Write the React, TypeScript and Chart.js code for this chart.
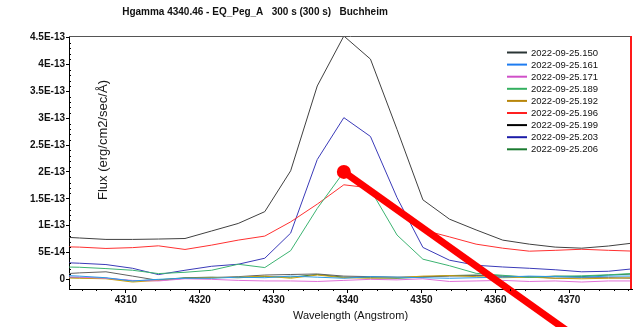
import React, { useEffect, useRef } from "react";
import { Chart, registerables } from "chart.js";
Chart.register(...registerables);

// Wavelength samples (Angstrom)
const wavelengths = [
  4300.1, 4303.7, 4307.3, 4310.9, 4314.4, 4318.0, 4321.6, 4325.2, 4328.8, 4332.3, 4335.9, 4339.5,
  4343.1, 4346.7, 4350.2, 4353.8, 4357.4, 4361.0, 4364.6, 4368.1, 4371.7, 4375.3, 4378.9,
];

// Flux values in units of 1e-14 erg/cm2/sec/A
const UNIT = 1e-14;
const f150 = [7.96, 7.7, 7.43, 7.43, 7.5, 7.6, 9.0, 10.4, 12.6, 20.2, 36.0, 45.3, 41.0, 27.9, 14.8, 11.2, 9.2, 7.3, 6.55, 6.0, 5.8, 6.2, 6.8];
const f161 = [0.8, 0.6, 0.3, -0.3, 0.0, 0.2, 0.2, 0.4, 0.3, 0.6, 0.4, 0.2, 0.5, 0.4, 0.3, 0.2, 0.3, 0.4, 0.6, 0.5, 0.4, 0.6, 0.6];
const f171 = [0.5, 0.4, 0.2, -0.2, -0.3, 0.1, 0.0, -0.2, -0.3, -0.3, -0.4, -0.2, 0.0, -0.1, 0.1, -0.4, -0.3, -0.2, -0.4, -0.3, -0.5, -0.3, -0.3];
const f189 = [2.34, 2.25, 2.0, 1.69, 1.07, 1.31, 1.69, 2.81, 2.19, 5.34, 13.2, 20.0, 16.7, 8.24, 3.75, 2.53, 1.12, 0.75, 0.37, 0.56, 0.66, 0.84, 1.12];
const f192 = [0.3, 0.2, 0.1, -0.5, -0.2, 0.2, 0.3, 0.4, 0.6, 0.2, 0.8, 0.3, 0.2, 0.3, 0.6, 0.7, 0.5, 0.3, 0.4, 0.2, 0.1, 0.2, 0.3];
const f196 = [6.1, 6.0, 5.75, 5.9, 6.24, 5.56, 6.37, 7.3, 8.05, 10.7, 14.0, 17.6, 17.0, 12.9, 9.2, 7.9, 6.55, 5.8, 5.24, 5.4, 5.6, 5.4, 5.24];
const f199 = [0.9, 1.2, 1.4, 0.6, -0.2, 0.2, 0.3, 0.5, 0.8, 0.9, 1.0, 0.6, 0.5, 0.4, 0.5, 0.6, 0.7, 0.6, 0.5, 0.2, 0.3, 0.3, 0.2];
const f203 = [3.18, 3.0, 2.75, 2.06, 0.88, 1.69, 2.43, 2.81, 3.93, 8.6, 22.3, 30.1, 26.6, 15.2, 5.94, 3.56, 2.62, 2.3, 2.06, 1.78, 1.4, 1.5, 2.0];
const f206 = [0.4, 0.3, 0.2, -0.3, -0.1, 0.3, 0.4, 0.3, 0.5, 0.4, 0.9, 0.4, 0.3, 0.2, 0.4, 0.7, 0.8, 0.6, 0.4, 0.6, 0.5, 0.8, 1.0];

const seriesLabels = [
  "2022-09-25.150", "2022-09-25.161", "2022-09-25.171", "2022-09-25.189", "2022-09-25.192",
  "2022-09-25.196", "2022-09-25.199", "2022-09-25.203", "2022-09-25.206",
];
const seriesValues = [f150, f161, f171, f189, f192, f196, f199, f203, f206];
const seriesColors = ["#2a3535", "#1e7cf0", "#d050c8", "#34b060", "#b8860b", "#ff2020", "#000000", "#1c1ca8", "#1a7a30"];
const plotColors = ["#404040", "#2a9ae8", "#e070d8", "#3cb371", "#c8a010", "#ff3030", "#606060", "#3a3ab8", "#2a7a40"];

// Annotation (red marker + pointer line), in data coordinates
const markerX = [4339.5, 4372.4];
const markerY = [2.0e-13, -1.22e-13];

const titleText = "Hgamma 4340.46 - EQ_Peg_A   300 s (300 s)   Buchheim";
const yTitle = "Flux (erg/cm2/sec/\u00C5)";
const xTitle = "Wavelength (Angstrom)";
const FONT = '"Liberation Sans", Arial, sans-serif';

const decor = {
  id: "decor",
  afterDraw(chart: any) {
    const { ctx, chartArea: a, scales } = chart;
    const xs = scales.x;
    const ys = scales.y;
    ctx.save();
    // top border
    ctx.strokeStyle = "#555";
    ctx.lineWidth = 1;
    ctx.beginPath();
    ctx.moveTo(a.left, Math.round(a.top) + 0.5);
    ctx.lineTo(a.right, Math.round(a.top) + 0.5);
    ctx.stroke();
    // right border
    ctx.strokeStyle = "#ff1a1a";
    ctx.lineWidth = 2;
    ctx.beginPath();
    ctx.moveTo(a.right - 1, a.top);
    ctx.lineTo(a.right - 1, a.bottom);
    ctx.stroke();
    // minor ticks
    ctx.strokeStyle = "#000";
    ctx.lineWidth = 1;
    ctx.beginPath();
    for (let w = Math.ceil(xs.min / 2) * 2; w <= xs.max; w += 2) {
      if (w % 10 === 0) continue;
      const px = Math.round(xs.getPixelForValue(w)) + 0.5;
      ctx.moveTo(px, a.bottom);
      ctx.lineTo(px, a.bottom + 2);
    }
    for (let k = Math.ceil(ys.min / 1e-14); k <= Math.floor(ys.max / 1e-14); k++) {
      if (k % 5 === 0) continue;
      const py = Math.round(ys.getPixelForValue(k * 1e-14)) + 0.5;
      ctx.moveTo(a.left, py);
      ctx.lineTo(a.left + 2, py);
    }
    ctx.stroke();
    // title
    ctx.fillStyle = "#111";
    ctx.font = "bold 10px " + FONT;
    ctx.textAlign = "center";
    ctx.textBaseline = "middle";
    ctx.fillText(titleText, 255, 12);
    // y title inside plot
    ctx.save();
    ctx.translate(a.left + 34, 140);
    ctx.rotate(-Math.PI / 2);
    ctx.font = "13px " + FONT;
    ctx.fillStyle = "#1a1a1a";
    ctx.fillText(yTitle, 0, 0);
    ctx.restore();
    // legend
    ctx.font = "9.5px " + FONT;
    ctx.textAlign = "left";
    seriesLabels.forEach((lab, i) => {
      const yy = a.top + 16.5 + i * 12.1;
      ctx.strokeStyle = seriesColors[i];
      ctx.lineWidth = 2;
      ctx.beginPath();
      ctx.moveTo(a.right - 125, yy);
      ctx.lineTo(a.right - 105, yy);
      ctx.stroke();
      ctx.fillStyle = "#111";
      ctx.fillText(lab, a.right - 101, yy + 0.5);
    });
    ctx.restore();
  },
};

export default function App() {
  const ref = useRef<HTMLCanvasElement | null>(null);
  useEffect(() => {
    if (!ref.current) return;
    const datasets: any[] = [
      {
        label: "marker",
        data: markerX.map((x, i) => ({ x, y: markerY[i] })),
        borderColor: "#ff0000",
        backgroundColor: "#ff0000",
        borderWidth: 7,
        pointRadius: (c: any) => (c.dataIndex === 0 ? 7 : 0),
        pointBackgroundColor: "#ff0000",
        pointBorderWidth: 0,
        clip: false,
        order: -1,
      },
      ...seriesValues.map((vals, i) => ({
        label: seriesLabels[i],
        data: wavelengths.map((w, j) => ({ x: w, y: vals[j] * UNIT })),
        borderColor: plotColors[i],
        borderWidth: 1,
        pointRadius: 0,
        tension: 0,
      })),
    ];
    const chart = new Chart(ref.current, {
      type: "line",
      data: { datasets },
      options: {
        animation: false,
        responsive: true,
        maintainAspectRatio: false,
        layout: { padding: { top: 36, right: 6, left: 0, bottom: 0 } },
        plugins: { legend: { display: false }, tooltip: { enabled: false }, title: { display: false } },
        scales: {
          x: {
            type: "linear",
            min: 4302.3,
            max: 4378.5,
            afterFit: (s: any) => { s.height = 38; },
            border: { color: "#000", width: 1 },
            grid: { display: true, drawOnChartArea: false, drawTicks: true, tickLength: 4, color: "#000" },
            ticks: {
              stepSize: 10,
              includeBounds: false,
              padding: 1,
              color: "#111",
              font: { family: FONT, size: 10, weight: "bold" },
              maxRotation: 0,
              callback: (v: any) => String(v),
            },
            title: { display: true, text: xTitle, color: "#111", font: { family: FONT, size: 11 }, padding: { top: 0, bottom: 4 } },
          },
          y: {
            type: "linear",
            min: -1.8e-14,
            max: 4.53e-13,
            afterFit: (s: any) => { s.width = 69; },
            border: { color: "#000", width: 1 },
            grid: { display: true, drawOnChartArea: false, drawTicks: true, tickLength: 3, color: "#000" },
            ticks: {
              stepSize: 5e-14,
              includeBounds: false,
              padding: 1,
              color: "#111",
              font: { family: FONT, size: 10, weight: "bold" },
              callback: (v: any) => {
                const n = Number(Number(v).toPrecision(3));
                if (Math.abs(n) < 1e-20) return "0";
                return n.toExponential().toUpperCase().replace("+", "");
              },
            },
          },
        },
      },
      plugins: [decor],
    });
    return () => chart.destroy();
  }, []);
  return (
    <div style={{ position: "fixed", left: 0, top: 0, width: 639, height: 327, background: "#fff" }}>
      <canvas ref={ref} />
    </div>
  );
}
